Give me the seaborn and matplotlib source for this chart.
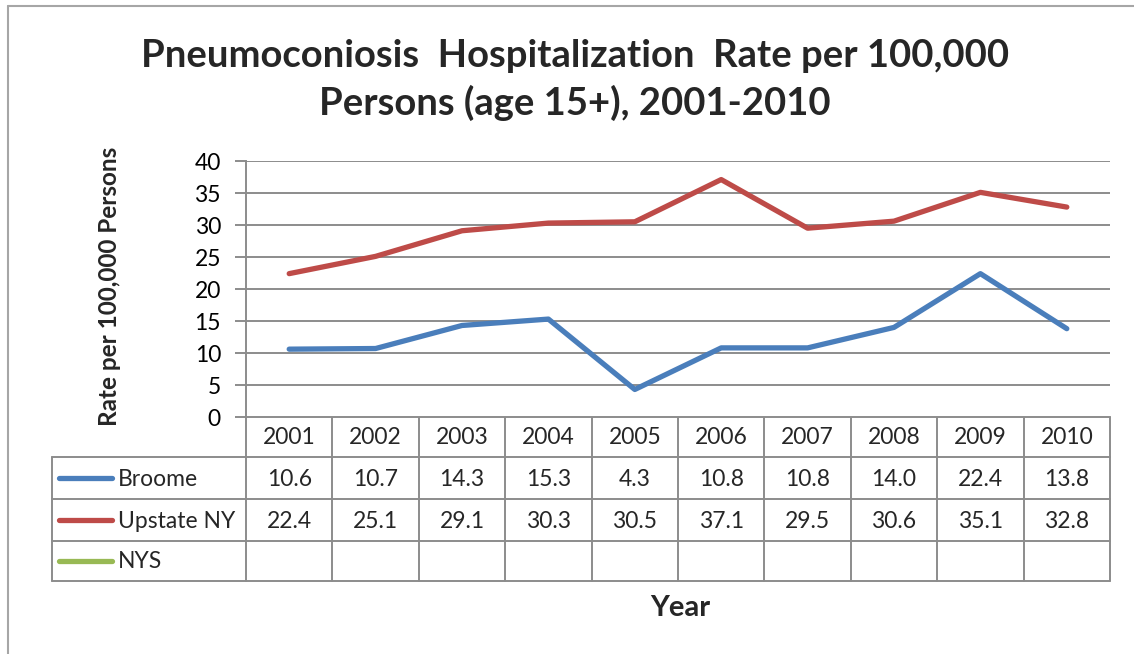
import matplotlib
matplotlib.use("Agg")
import matplotlib.pyplot as plt
import seaborn as sns
import pandas as pd
import numpy as np

years = ["2001", "2002", "2003", "2004", "2005", "2006", "2007", "2008", "2009", "2010"]
broome = [10.6, 10.7, 14.3, 15.3, 4.3, 10.8, 10.8, 14.0, 22.4, 13.8]
upstate = [22.4, 25.1, 29.1, 30.3, 30.5, 37.1, 29.5, 30.6, 35.1, 32.8]
nys = [None] * 10
series_names = ["Broome", "Upstate NY", "NYS"]
series_values = [broome, upstate, nys]
colors = ["#4A7EBB", "#BE4B48", "#98B954"]
yticks = [0, 5, 10, 15, 20, 25, 30, 35, 40]
title = "Pneumoconiosis  Hospitalization  Rate per 100,000\nPersons (age 15+), 2001-2010"
ylabel = "Rate per 100,000 Persons"
xlabel = "Year"

sns.set_theme(style="white")
plt.rcParams["font.family"] = ["Lato", "DejaVu Sans"]

W, H = 1134, 654
fig = plt.figure(figsize=(W / 100, H / 100), dpi=100)

# pixel layout
L, R, T, B = 246, 1110, 161, 417
ax = fig.add_axes([L / W, 1 - B / H, (R - L) / W, (B - T) / H])

rows = []
for name, vals in zip(series_names, series_values):
    for i, v in enumerate(vals):
        rows.append({"idx": i, "value": np.nan if v is None else v, "series": name})
df = pd.DataFrame(rows)

sns.lineplot(data=df, x="idx", y="value", hue="series", palette=dict(zip(series_names, colors)),
             hue_order=series_names, linewidth=3.8, ax=ax, legend=False, solid_capstyle="round")

ax.set_xlim(-0.5, len(years) - 0.5)
ax.set_ylim(0, 40)
ax.set_yticks(yticks)
ax.set_yticklabels([str(t) for t in yticks], fontsize=16.5)
ax.set_xticks([])
ax.set_xlabel("")
ax.set_ylabel("")
gcol = "#8C8C8C"
ax.grid(axis="y", color=gcol, linewidth=1.4)
ax.set_axisbelow(True)
for s in ["top", "right", "bottom"]:
    ax.spines[s].set_visible(False)
ax.spines["left"].set_color(gcol)
ax.spines["left"].set_linewidth(1.4)
ax.tick_params(axis="y", left=True, length=8, width=1.4, color=gcol, pad=10, labelcolor="black")

# overlay axes in pixel coordinates
ov = fig.add_axes([0, 0, 1, 1], zorder=-1)
ov.set_xlim(0, W)
ov.set_ylim(H, 0)
ov.axis("off")
ov.patch.set_alpha(0)

lw = 1.4
# outer chart border
ov.plot([8, 8], [6, H + 5], color="#A6A6A6", lw=1.5)
ov.plot([8, W + 5], [6, 6], color="#A6A6A6", lw=1.5)

# data table
TL = 52
row_edges = [417, 457, 499, 541, 581]
ncol = len(years)
colw = (R - L) / ncol
col_edges = [L + colw * i for i in range(ncol + 1)]
ov.plot([L, L], [row_edges[0], row_edges[-1]], color=gcol, lw=lw)
ov.plot([TL, TL], [row_edges[1], row_edges[-1]], color=gcol, lw=lw)
for x in col_edges[1:]:
    ov.plot([x, x], [row_edges[0], row_edges[-1]], color=gcol, lw=lw)
ov.plot([L, R], [row_edges[0], row_edges[0]], color=gcol, lw=lw)
for y in row_edges[1:]:
    ov.plot([TL, R], [y, y], color=gcol, lw=lw)

fs = 16.5
for i, yr in enumerate(years):
    cx = (col_edges[i] + col_edges[i + 1]) / 2
    ov.text(cx, (row_edges[0] + row_edges[1]) / 2 + 1, yr, ha="center", va="center", fontsize=fs)
for r, (name, vals, c) in enumerate(zip(series_names, series_values, colors)):
    cy = (row_edges[r + 1] + row_edges[r + 2]) / 2
    ov.plot([59, 112], [cy, cy], color=c, lw=3.8, solid_capstyle="round")
    ov.text(118, cy + 1, name, ha="left", va="center", fontsize=fs)
    for i, v in enumerate(vals):
        if v is None:
            continue
        cx = (col_edges[i] + col_edges[i + 1]) / 2
        ov.text(cx, cy + 1, f"{v:.1f}", ha="center", va="center", fontsize=fs)

# titles
fig.text(575 / W, 1 - 80 / H, title, ha="center", va="center", fontsize=27.5,
         fontweight="bold", linespacing=1.38)
fig.text(110 / W, 1 - 286 / H, ylabel, ha="center", va="center", rotation=90,
         fontsize=17.5, fontweight="bold")
fig.text(680 / W, 1 - 608 / H, xlabel, ha="center", va="center", fontsize=21,
         fontweight="bold")

fig.savefig("out.png", dpi=100)
